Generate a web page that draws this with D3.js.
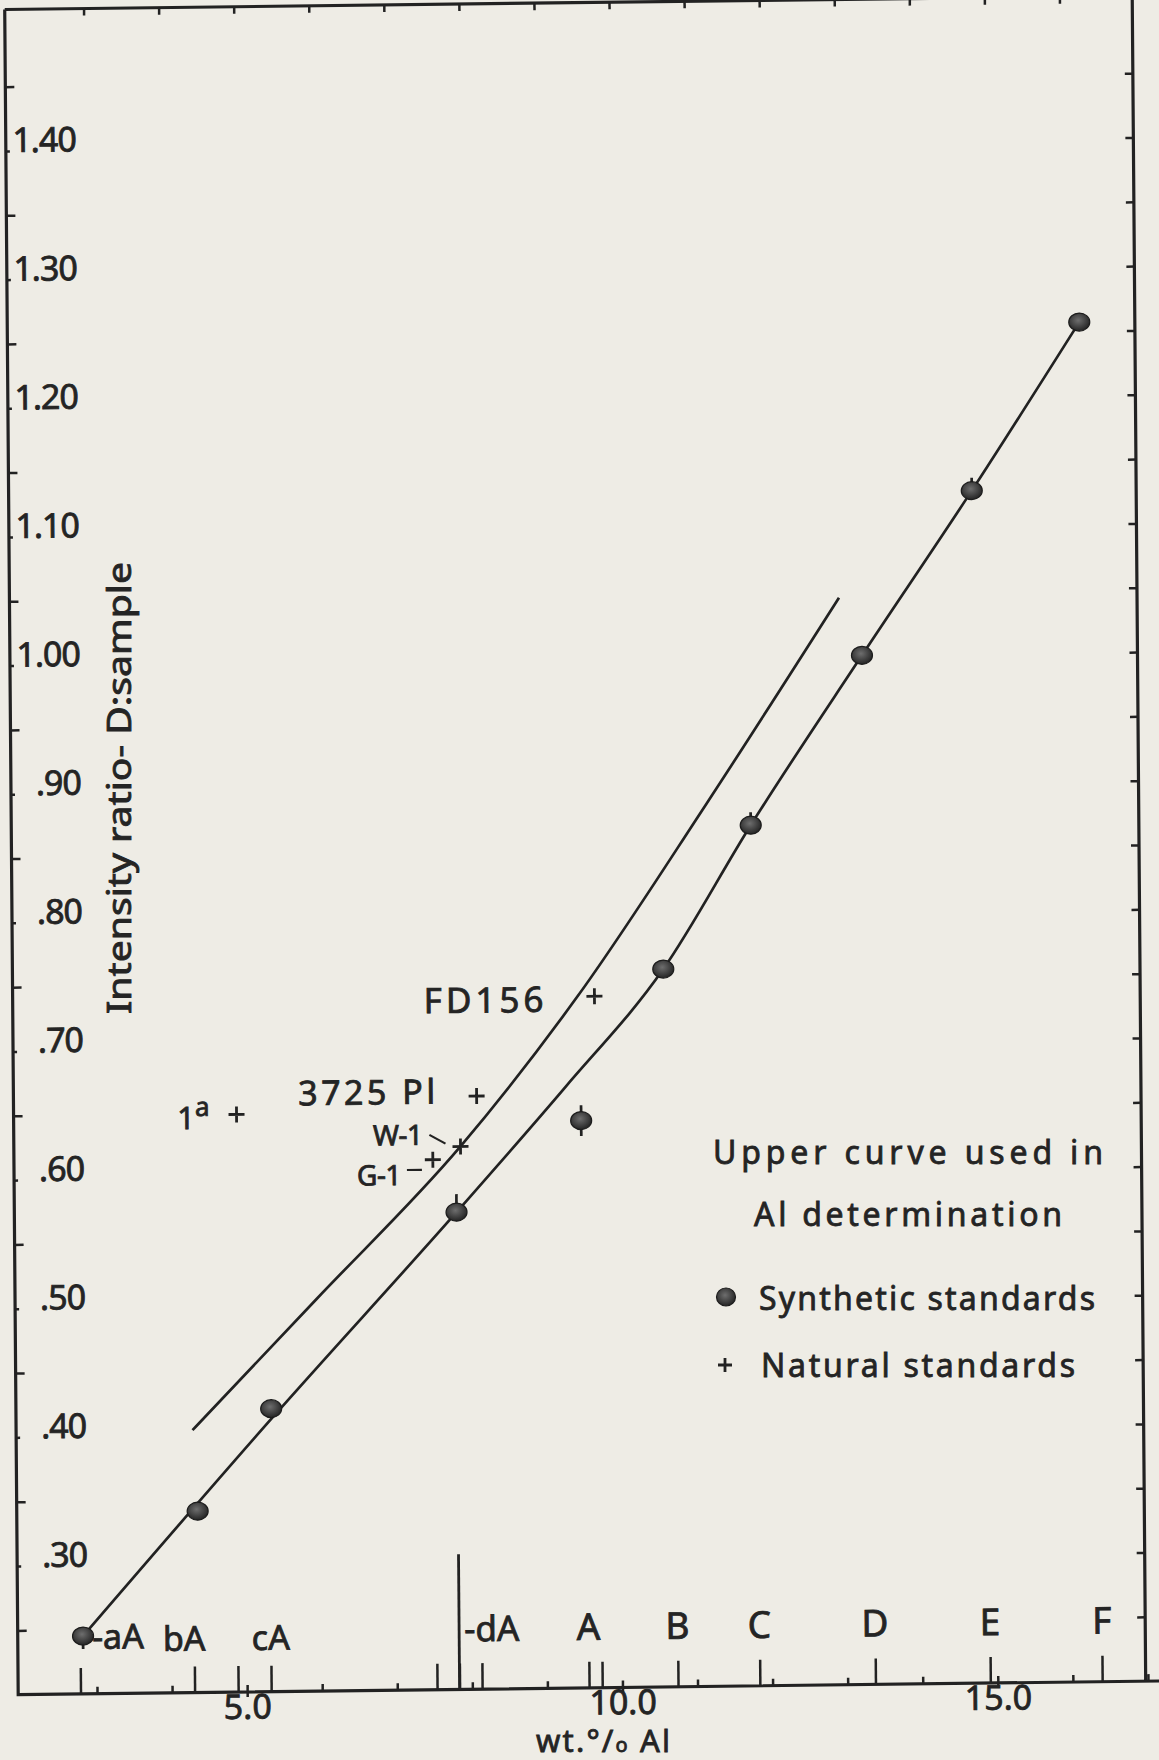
<!DOCTYPE html>
<html><head><meta charset="utf-8">
<script src="https://cdn.jsdelivr.net/npm/d3@7"></script>
<style>
body{margin:0;background:#eeece5;}
svg{display:block}
text{font-family:"Noto Sans","DejaVu Sans",sans-serif;fill:#242424;stroke:#242424;stroke-width:0.8px;}
</style>
</head><body>
<svg id="c" width="1159" height="1760"></svg>
<script>
// ---------------- data ----------------
const synthLabels = ["aA","bA","cA","dA","A","B","C","D","E","F"];
const synthX      = [2.82, 4.36, 5.35, 7.84, 9.51, 10.62, 11.80, 13.30, 14.78, 16.23];
const synthY      = [0.245,0.341,0.420,0.571,0.641,0.758,0.869,1.000,1.127,1.257];
const synthErrUp  = [0, 0, 0, 0.014, 0.012, 0, 0.010, 0, 0.010, 0];
const synthErrDn  = [0.010, 0, 0, 0, 0.012, 0, 0, 0, 0, 0];
const synthTickX  = [2.78, 4.30, 5.32, 7.83, 9.555, 10.74, 11.83, 13.37, 14.90, 16.39];

const naturalNames = ["1a","3725 Pl","W-1","G-1","FD156"];
const naturalX     = [4.92, 8.12, 7.90, 7.53, 9.70];
const naturalY     = [0.649, 0.661, 0.622, 0.612, 0.7375];
const naturalTickX = [4.88, 7.53, 8.13, 9.73];

const upperCurveX = [4.30, 5.97, 7.90, 9.48, 11.20, 13.00];
const upperCurveY = [0.404, 0.505, 0.622, 0.738, 0.885, 1.045];
const lowerCurveX = [2.82, 5.35, 7.84, 9.30, 10.62, 11.80, 13.30, 14.78, 16.23];
const lowerCurveY = [0.245, 0.412, 0.571, 0.667, 0.758, 0.869, 1.000, 1.127, 1.257];

const xLabelValues = [5, 10, 15];
const xLabels      = ["5.0", "10.0", "15.0"];
const xMinorValues = [3,4,5,6,7,8,9,10,11,12,13,14,15,16,17];
const topTickValues = [3,4,5,6,7,8,9,10,11,12,13,14,15,16];
const yLabelValues = [0.30,0.40,0.50,0.60,0.70,0.80,0.90,1.00,1.10,1.20,1.30,1.40];
const yLabels      = [".30",".40",".50",".60",".70",".80",".90","1.00","1.10","1.20","1.30","1.40"];
const yMidValues   = [0.25,0.35,0.45,0.55,0.65,0.75,0.85,0.95,1.05,1.15,1.25,1.35,1.45];
const rightTickValues = d3.range(5, 30).map(i => i * 0.05);

const yTitle = "Intensity ratio- D:sample";
const legendLines = ["Upper curve used in", "Al determination"];
const legendItems = ["Synthetic standards", "Natural standards"];

// ---------------- layout ----------------
const W = 1159, H = 1760;
const ink = "#222";
const svg = d3.select("#c");
svg.append("rect").attr("width", W).attr("height", H).attr("fill", "#eeece5");

const defs = svg.append("defs");
const grad = defs.append("radialGradient").attr("id", "ball").attr("cx", "45%").attr("cy", "40%").attr("r", "60%");
grad.append("stop").attr("offset", "0%").attr("stop-color", "#6e6e6e");
grad.append("stop").attr("offset", "100%").attr("stop-color", "#242424");

const xDom = [1.95, 16.97], yDom = [0.20, 1.51];
const x = d3.scaleLinear().domain(xDom).range([18.2, 1145.7]);
const y = d3.scaleLinear().domain(yDom).range([1694.7, 9.5]);

// the scanned sheet is slightly skewed
const X0 = x(xDom[0]), Y0 = y(yDom[0]);
const g = svg.append("g")
  .attr("transform", `translate(${X0},${Y0}) matrix(1,-0.012,0.008,1,0,0) translate(${-X0},${-Y0})`);

// frame
g.append("path")
  .attr("d", `M${x(xDom[0])},${y(yDom[1])}V${y(yDom[0])}H${x(17.4)}M${x(xDom[0])},${y(yDom[1])}H${x(xDom[1])}V${y(yDom[0])}`)
  .attr("fill", "none").attr("stroke", ink).attr("stroke-width", 3.2);

function styleAxis(sel) {
  sel.select(".domain").remove();
  sel.selectAll("line").attr("stroke", ink).attr("stroke-width", 2.5);
  sel.selectAll("text").style("font-family", null).attr("fill", "#242424");
}

// left axis: labels and small marks
const yAx = g.append("g").attr("transform", `translate(${x(xDom[0])},0)`)
  .call(d3.axisRight(y).tickValues(yLabelValues).tickSize(4).tickPadding(66)
        .tickFormat((d, i) => yLabels[i]));
styleAxis(yAx);
yAx.selectAll("text").attr("text-anchor", "end").attr("dy", "0.02em")
  .style("font-size", "34px").style("letter-spacing", "-1px");
const yAx2 = g.append("g").attr("transform", `translate(${x(xDom[0])},0)`)
  .call(d3.axisRight(y).tickValues(yMidValues).tickSize(9).tickFormat(""));
styleAxis(yAx2);

// right border ticks
const rAx = g.append("g").attr("transform", `translate(${x(xDom[1])},0)`)
  .call(d3.axisLeft(y).tickValues(rightTickValues).tickSize(8).tickFormat(""));
styleAxis(rAx);

// top border ticks
const tAx = g.append("g").attr("transform", `translate(0,${y(yDom[1])})`)
  .call(d3.axisBottom(x).tickValues(topTickValues).tickSize(7).tickFormat(""));
styleAxis(tAx);

// bottom: integer minor ticks
const bMin = g.append("g").attr("transform", `translate(0,${Y0})`)
  .call(d3.axisTop(x).tickValues(xMinorValues).tickSize(7).tickFormat(""));
styleAxis(bMin);
// bottom: labelled values
const bLab = g.append("g").attr("transform", `translate(0,${Y0})`)
  .call(d3.axisBottom(x).tickValues(xLabelValues).tickSize(5).tickPadding(3)
        .tickFormat((d, i) => xLabels[i]));
styleAxis(bLab);
bLab.selectAll("text").style("font-size", "34px").attr("dy", "0.55em");
// bottom: standards ticks
const bStd = g.append("g").attr("transform", `translate(0,${Y0})`)
  .call(d3.axisTop(x).tickValues(synthTickX.concat(naturalTickX)).tickSize(26).tickFormat(""));
styleAxis(bStd);
// dA marker line
g.append("line")
  .attr("x1", x(synthTickX[3])).attr("x2", x(synthTickX[3]))
  .attr("y1", Y0).attr("y2", y(0.305))
  .attr("stroke", ink).attr("stroke-width", 2.8);

// letter labels of the synthetic standards
synthLabels.forEach((lab, i) => {
  const t = g.append("text");
  if (i === 0) {
    t.attr("x", x(synthX[0]) + 9).attr("y", y(synthY[0]) + 13).style("font-size", "34px").text("-" + lab);
  } else if (i < 3) {
    t.attr("x", x(synthTickX[i]) - (i === 1 ? 10 : 0)).attr("y", Y0 - 42)
     .attr("text-anchor", "middle").style("font-size", "34px").text(lab);
  } else if (i === 3) {
    t.attr("x", x(synthTickX[i]) + 5).attr("y", Y0 - 48).style("font-size", "35px").text("-" + lab);
  } else {
    t.attr("x", x(synthTickX[i])).attr("y", Y0 - 48).attr("text-anchor", "middle")
     .style("font-size", "37px").text(lab);
  }
});

// curves
const line = d3.line().x(d => x(d[0])).y(d => y(d[1])).curve(d3.curveMonotoneX);
g.append("path").datum(d3.zip(upperCurveX, upperCurveY)).attr("d", line)
  .attr("fill", "none").attr("stroke", ink).attr("stroke-width", 2.7);
g.append("path").datum(d3.zip(lowerCurveX, lowerCurveY)).attr("d", line)
  .attr("fill", "none").attr("stroke", ink).attr("stroke-width", 2.7);

// error bars
synthX.forEach((sx, i) => {
  if (synthErrUp[i] > 0 || synthErrDn[i] > 0) {
    g.append("line").attr("x1", x(sx)).attr("x2", x(sx))
      .attr("y1", y(synthY[i] - synthErrDn[i])).attr("y2", y(synthY[i] + synthErrUp[i]))
      .attr("stroke", ink).attr("stroke-width", 2.7);
  }
});
// synthetic standards
g.selectAll("ellipse.syn").data(d3.zip(synthX, synthY)).join("ellipse")
  .attr("class", "syn").attr("cx", d => x(d[0])).attr("cy", d => y(d[1]))
  .attr("rx", 10.5).attr("ry", 9).attr("fill", "url(#ball)").attr("stroke", "#1c1c1c").attr("stroke-width", 1.2);

// natural standards
const plus = s => `M${-s},0H${s}M0,${-s}V${s}`;
g.selectAll("path.nat").data(d3.zip(naturalX, naturalY)).join("path")
  .attr("class", "nat").attr("transform", d => `translate(${x(d[0])},${y(d[1])})`)
  .attr("d", plus(8)).attr("stroke", ink).attr("stroke-width", 2.8).attr("fill", "none");

// labels of natural standards
const nx = i => x(naturalX[i]), ny = i => y(naturalY[i]);
const t1a = g.append("text").attr("x", nx(0) - 27).attr("y", ny(0) + 14).attr("text-anchor", "end").style("font-size", "31px");
t1a.append("tspan").text("1");
t1a.append("tspan").attr("dy", -13).style("font-size", "26px").text("a");
g.append("text").attr("x", nx(1) - 38).attr("y", ny(1) + 7).attr("text-anchor", "end")
  .style("font-size", "34px").style("letter-spacing", "3.5px").text(naturalNames[1]);
g.append("text").attr("x", nx(2) - 38).attr("y", ny(2) - 2).attr("text-anchor", "end")
  .style("font-size", "28px").style("letter-spacing", "-0.5px").text(naturalNames[2]);
g.append("line").attr("x1", nx(2) - 31).attr("y1", ny(2) - 12).attr("x2", nx(2) - 15).attr("y2", ny(2) - 3)
  .attr("stroke", ink).attr("stroke-width", 2.2);
g.append("text").attr("x", nx(3) - 32).attr("y", ny(3) + 25).attr("text-anchor", "end")
  .style("font-size", "28px").style("letter-spacing", "-0.5px").text(naturalNames[3]);
g.append("line").attr("x1", nx(3) - 26).attr("y1", ny(3) + 10).attr("x2", nx(3) - 11).attr("y2", ny(3) + 10)
  .attr("stroke", ink).attr("stroke-width", 2.2);
g.append("text").attr("x", nx(4) - 47).attr("y", ny(4) + 15).attr("text-anchor", "end")
  .style("font-size", "35px").style("letter-spacing", "4px").text(naturalNames[4]);

// axis titles
svg.append("text").attr("transform", "translate(131,788) rotate(-90)")
  .attr("text-anchor", "middle").style("font-size", "32px")
  .attr("textLength", 452).attr("lengthAdjust", "spacingAndGlyphs").text(yTitle);
const xt = svg.append("text").attr("x", 536).attr("y", 1752).style("font-size", "31px")
  .attr("textLength", 134).attr("lengthAdjust", "spacing");
xt.append("tspan").text("wt.°/");
xt.append("tspan").style("font-size", "20px").text("o");
xt.append("tspan").text(" Al");

// legend
const leg = svg.append("g");
leg.append("text").attr("x", 713).attr("y", 1164).style("font-size", "32px")
  .attr("textLength", 390).attr("lengthAdjust", "spacing").text(legendLines[0]);
leg.append("text").attr("x", 754).attr("y", 1226).style("font-size", "32px")
  .attr("textLength", 308).attr("lengthAdjust", "spacing").text(legendLines[1]);
leg.append("ellipse").attr("cx", 726).attr("cy", 1297).attr("rx", 9.5).attr("ry", 9)
  .attr("fill", "url(#ball)").attr("stroke", "#1c1c1c").attr("stroke-width", 1.2);
leg.append("text").attr("x", 759).attr("y", 1310).style("font-size", "32px")
  .attr("textLength", 336).attr("lengthAdjust", "spacing").text(legendItems[0]);
leg.append("path").attr("transform", "translate(725,1365)").attr("d", plus(7))
  .attr("stroke", ink).attr("stroke-width", 2.8);
leg.append("text").attr("x", 761).attr("y", 1377).style("font-size", "32px")
  .attr("textLength", 314).attr("lengthAdjust", "spacing").text(legendItems[1]);
</script>
</body></html>
